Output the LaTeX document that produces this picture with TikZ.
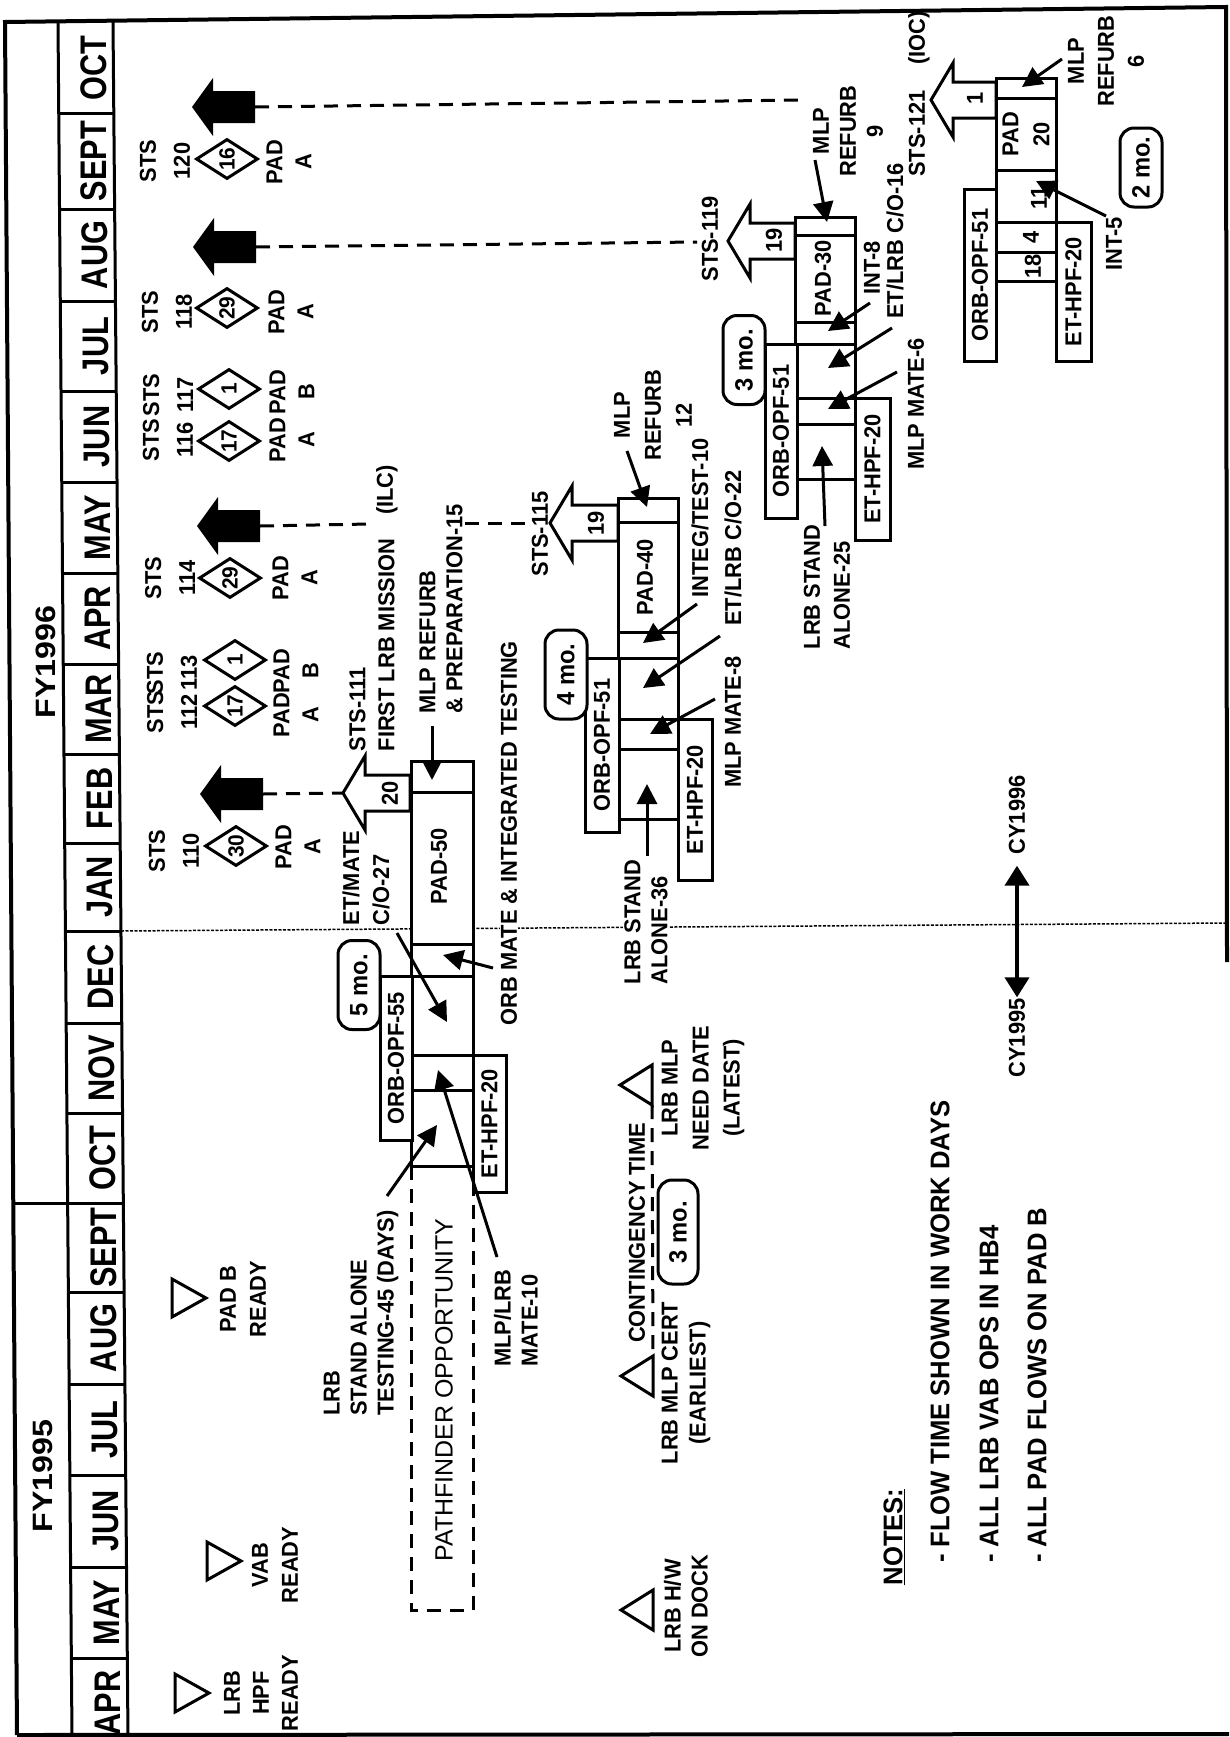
\documentclass[tikz,border=0pt]{standalone}
\usepackage{fontspec}
\setmainfont{Liberation Sans}
\newfontfamily\lbf{Liberation Sans}[FakeStretch=0.95]
\newfontfamily\monf{Liberation Sans}[FakeStretch=0.83]
\newfontfamily\fyf{Liberation Sans}[FakeStretch=1.15]
\usetikzlibrary{arrows.meta,shapes.geometric}
\tikzset{
  lab/.style={rotate=90, inner sep=1pt, align=center, font=\lbf\bfseries\fontsize{23}{28}\selectfont},
  ls/.style={font=\lbf\bfseries\fontsize{23}{#1}\selectfont},
  labl/.style={lab, align=left},
  mon/.style={rotate=90, inner sep=0pt, font=\monf\bfseries\fontsize{37}{37}\selectfont},
  fy/.style={rotate=90, inner sep=0pt, font=\fyf\bfseries\fontsize{28}{28}\selectfont},
  tbox/.style={draw, line width=3pt, fill=white, rotate=90, inner sep=0pt, font=\lbf\bfseries\fontsize{23}{28}\selectfont},
  rbox/.style={draw, line width=3pt, fill=white, rotate=90, rounded corners=14pt, inner sep=0pt, minimum width=89pt, minimum height=42pt, font=\lbf\bfseries\fontsize{25}{28}\selectfont},
  dia/.style={diamond, draw, line width=3pt, fill=white, rotate=90, inner sep=0pt, minimum width=40pt, minimum height=62pt, font=\lbf\bfseries\fontsize{22}{22}\selectfont},
  num/.style={rotate=90, inner sep=0pt, font=\lbf\bfseries\fontsize{23}{26}\selectfont},
  ptr/.style={line width=3pt, -{Triangle[length=20pt,width=20pt]}},
  dsh/.style={line width=3pt, dash pattern=on 14pt off 9pt},
  fine/.style={line width=1.5pt, dash pattern=on 3pt off 1.5pt},
  cell/.style={line width=3pt},
  mstone/.style={line width=3pt, fill=white},
  holarr/.style={draw, line width=3pt, fill=white},
  notef/.style={rotate=90, inner sep=0pt, anchor=west, font=\lbf\bfseries\fontsize{27}{30}\selectfont},
}
\newcommand{\blkarrow}[2]{\fill (#1,#2) -- ++(21,-29) -- ++(0,13) -- ++(42,0) -- ++(0,32) -- ++(-42,0) -- ++(0,13) -- cycle;}
\newcommand{\holarrow}[3]{\draw[holarr] (#1,#2) -- ++(22,-37) -- ++(0,19) -- ++(#3,0) -- ++(0,36) -- ++(-#3,0) -- ++(0,19) -- cycle;}
\newcommand{\tridown}[2]{\draw[mstone] (#1,#2-19) -- (#1,#2+19) -- (#1+34,#2) -- cycle;}
\newcommand{\triup}[2]{\draw[mstone] (#1,#2-20) -- (#1,#2+20) -- (#1-32,#2) -- cycle;}
\begin{document}
\begin{tikzpicture}[x=1pt,y=-1pt]
\useasboundingbox (0,0) rectangle (1229,1737);
% ---------- frame and header ----------
\draw[line width=4pt] (17,1735) -- (5,22) -- (1226,7) -- (1227,962);
\draw[line width=4pt] (17,1735) -- (1229,1734);
\draw[line width=3pt] (58,22) -- (72,1737);
\draw[line width=3pt] (113,22) -- (128,1737);
\draw[line width=3pt] (13,1203) -- (67.6,1203);
\foreach \y in {113.6,209,301,391,482,573,664,754,843,931,1023,1113,1203,1292,1384,1475,1567,1658}
  \draw[line width=3pt] ({58+0.00816*(\y-22)},\y) -- ({113+0.00875*(\y-22)},\y);
\foreach \y/\t [count=\i] in {67.8/OCT,161.3/SEPT,255/AUG,346/JUL,436.5/JUN,527.5/MAY,618.5/APR,709/MAR,798.5/FEB,887/JAN,977/DEC,1068/NOV,1158/OCT,1247.5/SEPT,1338/AUG,1429.5/JUL,1521/JUN,1612.5/MAY,1703/APR}
  \node[mon] (m\i) at ({93+0.0085*(\y-22)},\y) {\t};
\node[fy] (fy96) at (46,662) {FY1996};
\node[fy] (fy95) at (43,1476) {FY1995};
% ---------- CY boundary ----------
\draw[fine] (121,931) -- (1226,923);
% ---------- launch connectors ----------
\coordinate (e120) at (255,107); \coordinate (f120) at (802,100);
\coordinate (e118) at (256,247); \coordinate (f118) at (697,242);
\coordinate (e114) at (260,526); \coordinate (g114) at (370,524);
\coordinate (h114) at (465,523); \coordinate (f114) at (527,523);
\coordinate (e110) at (263,794); \coordinate (f110) at (343,793);
\draw[dsh] (e120) -- (f120);
\draw[dsh] (e118) -- (f118);
\draw[dsh] (e114) -- (g114);
\draw[dsh] (h114) -- (f114);
\draw[dsh] (e110) -- (f110);
\blkarrow{192}{107}
\blkarrow{193}{247}
\blkarrow{197}{526}
\blkarrow{200}{794}
% ---------- launch diamonds ----------
\node[lab, ls=34] (s120) at (165,161) {STS\\120};
\node[dia] (d120) at (227,159) {16};
\node[lab, ls=29] (p120) at (289,162) {PAD\\A};
\node[lab, ls=34] (s118) at (167,312) {STS\\118};
\node[dia] (d118) at (227,308) {29};
\node[lab, ls=29] (p118) at (291,312) {PAD\\A};
\node[lab, ls=34] (s117) at (168,395) {STS\\117};
\node[dia] (d117) at (229,389) {1};
\node[lab, ls=29] (p117) at (292,392) {PAD\\B};
\node[lab, ls=34] (s116) at (168,440) {STS\\116};
\node[dia] (d116) at (229,441) {17};
\node[lab, ls=29] (p116) at (292,440) {PAD\\A};
\node[lab, ls=34] (s114) at (170,578) {STS\\114};
\node[dia] (d114) at (230,578) {29};
\node[lab, ls=29] (p114) at (295,578) {PAD\\A};
\node[lab, ls=34] (s113) at (172,673) {STS\\113};
\node[dia] (d113) at (235,660) {1};
\node[lab, ls=29] (p113) at (296,671) {PAD\\B};
\node[lab, ls=34] (s112) at (172,712) {STS\\112};
\node[dia] (d112) at (235,706) {17};
\node[lab, ls=29] (p112) at (296,715) {PAD\\A};
\node[lab, ls=34] (s110) at (174,851) {STS\\110};
\node[dia] (d110) at (236,846) {30};
\node[lab, ls=29] (p110) at (298,847) {PAD\\A};
% ---------- pathfinder flow (STS-111) ----------
\draw[dsh] (411,1166) -- (411,1610) -- (473,1610) -- (473,1166);
\holarrow{343}{793}{45}
\draw[cell, fill=white] (411,761) rectangle (473,1166);
\foreach \y in {792,944,976,1055,1090} \draw[cell] (411,\y) -- (473,\y);
\node[tbox, minimum width=164pt, minimum height=32pt] (orb55) at (396,1058) {ORB-OPF-55};
\node[tbox, minimum width=137pt, minimum height=33pt] (ethpf1) at (489.5,1123.5) {ET-HPF-20};
\node[rbox] (mo5) at (359,985) {5 mo.};
\node[lab] (pad50) at (439,866) {PAD-50};
\node[num] (n20) at (390,793) {20};
\node[labl, ls=29] (sts111) at (372,645) {STS-111\\FIRST LRB MISSION};
\node[lab] (ilc) at (387,490) {(ILC)};
\node[labl, ls=27] (mlpref1) at (441,609) {MLP REFURB\\\& PREPARATION-15};
\node[lab, fill=white] (orbmate) at (509,833) {ORB MATE \& INTEGRATED TESTING};
\node[labl, ls=30] (etmate) at (366,878) {ET/MATE\\C/O-27};
\node[labl, ls=27] (mlplrb) at (516,1318) {MLP/LRB\\MATE-10};
\node[labl, ls=27] (lrbsat) at (361,1313) {LRB\\STAND ALONE\\TESTING-45 (DAYS)};
\node[rotate=90, inner sep=0pt, font=\fontsize{25}{28}\selectfont] (path) at (444,1390) {PATHFINDER OPPORTUNITY};
\coordinate (a1t) at (432,726); \coordinate (a1h) at (432,780);
\coordinate (a2t) at (493,968); \coordinate (a2h) at (443,955);
\coordinate (a3t) at (397,933); \coordinate (a3h) at (447,1022);
\coordinate (a4t) at (497,1257); \coordinate (a4h) at (438,1070);
\coordinate (a5t) at (387,1196); \coordinate (a5h) at (437,1125);
\draw[ptr] (a1t) -- (a1h);
\draw[ptr] (a2t) -- (a2h);
\draw[ptr] (a3t) -- (a3h);
\draw[ptr] (a4t) -- (a4h);
\draw[ptr] (a5t) -- (a5h);
% ---------- STS-115 flow ----------
\holarrow{550}{523}{46}
\draw[cell, fill=white] (618,498) rectangle (678,819);
\foreach \y in {522,632,658,719,749} \draw[cell] (618,\y) -- (678,\y);
\node[tbox, minimum width=174pt, minimum height=34pt] (orb51a) at (602,745) {ORB-OPF-51};
\node[tbox, minimum width=161pt, minimum height=34pt] (ethpf2) at (695,799.5) {ET-HPF-20};
\node[rbox] (mo4) at (566,674.5) {4 mo.};
\node[lab] (pad40) at (645,577) {PAD-40};
\node[num] (n19a) at (596,523) {19};
\node[lab] (sts115) at (540,534) {STS-115};
\node[lab, ls=31] (mlpref2) at (653,415) {MLP\\REFURB\\12};
\node[lab] (integ) at (700,518) {INTEG/TEST-10};
\node[lab] (etlrb2) at (733,548) {ET/LRB C/O-22};
\node[lab] (mate8) at (733,722) {MLP MATE-8};
\node[labl, ls=27, fill=white] (lrbsa36) at (646,922) {LRB STAND\\ALONE-36};
\coordinate (b1t) at (627,451); \coordinate (b1h) at (647,507);
\coordinate (b2t) at (697,604); \coordinate (b2h) at (643,643);
\coordinate (b3t) at (720,636); \coordinate (b3h) at (643,688);
\coordinate (b4t) at (715,699); \coordinate (b4h) at (650,734);
\coordinate (b5t) at (647,856); \coordinate (b5h) at (647,784);
\draw[ptr] (b1t) -- (b1h);
\draw[ptr] (b2t) -- (b2h);
\draw[ptr] (b3t) -- (b3h);
\draw[ptr] (b4t) -- (b4h);
\draw[ptr] (b5t) -- (b5h);
% ---------- STS-119 flow ----------
\holarrow{728}{241}{45}
\draw[cell, fill=white] (795,217) rectangle (855,479);
\foreach \y in {235,322,344,398,424} \draw[cell] (795,\y) -- (855,\y);
\node[tbox, minimum width=174pt, minimum height=32pt] (orb51b) at (781,431) {ORB-OPF-51};
\node[tbox, minimum width=142pt, minimum height=35pt] (ethpf3) at (872.5,469) {ET-HPF-20};
\node[rbox] (mo3) at (744,360) {3 mo.};
\node[lab] (pad30) at (823,278) {PAD-30};
\node[num] (n19b) at (774,240) {19};
\node[lab] (sts119) at (710,239) {STS-119};
\node[lab, ls=27] (mlpref3) at (848,131) {MLP\\REFURB\\9};
\node[lab] (int8) at (872,268) {INT-8};
\node[lab] (etlrb3) at (895,241) {ET/LRB C/O-16};
\node[lab] (mate6) at (916,404) {MLP MATE-6};
\node[labl, ls=30] (lrbsa25) at (827,587) {LRB STAND\\ALONE-25};
\coordinate (c1t) at (815,160); \coordinate (c1h) at (827,222);
\coordinate (c2t) at (870,303); \coordinate (c2h) at (828,331);
\coordinate (c3t) at (892,328); \coordinate (c3h) at (828,368);
\coordinate (c4t) at (897,372); \coordinate (c4h) at (828,409);
\coordinate (c5t) at (825,526); \coordinate (c5h) at (822,446);
\draw[ptr] (c1t) -- (c1h);
\draw[ptr] (c2t) -- (c2h);
\draw[ptr] (c3t) -- (c3h);
\draw[ptr] (c4t) -- (c4h);
\draw[ptr] (c5t) -- (c5h);
% ---------- STS-121 flow ----------
\holarrow{931}{100}{43}
\draw[cell, fill=white] (996,78) rectangle (1056,281);
\foreach \y in {98,170,222,252} \draw[cell] (996,\y) -- (1056,\y);
\node[tbox, minimum width=172pt, minimum height=32pt] (orb51c) at (980,275) {ORB-OPF-51};
\node[tbox, minimum width=139pt, minimum height=35pt] (ethpf4) at (1073.5,291.5) {ET-HPF-20};
\node[rbox, minimum width=79pt] (mo2) at (1141,167.5) {2 mo.};
\node[lab, ls=31] (pad20) at (1026,134) {PAD\\20};
\node[num] (n11) at (1039,198) {11};
\node[num] (n4) at (1031,237) {4};
\node[num] (n18) at (1033,266) {18};
\node[num] (n1) at (975,98) {1};
\node[lab] (sts121) at (917,133.5) {STS-121};
\node[lab] (ioc) at (919,38) {(IOC)};
\node[lab, ls=30] (mlpref4) at (1106,61) {MLP\\REFURB\\6};
\node[lab] (int5) at (1114,244) {INT-5};
\coordinate (d1t) at (1062,59); \coordinate (d1h) at (1022,87);
\coordinate (d2t) at (1106,216); \coordinate (d2h) at (1036,181);
\draw[ptr] (d1t) -- (d1h);
\draw[ptr] (d2t) -- (d2h);
% ---------- milestones ----------
\tridown{175}{1693}
\tridown{207}{1561}
\tridown{172}{1298}
\node[lab, ls=29] (hpfr) at (261,1693) {LRB\\HPF\\READY};
\node[lab, ls=30] (vabr) at (275,1565) {VAB\\READY};
\node[lab, ls=30] (padbr) at (243,1299) {PAD B\\READY};
\coordinate (needb) at (652,1105);
\coordinate (certb) at (653,1356);
\draw[dsh] (needb) -- (certb);
\triup{653}{1610}
\triup{653}{1376}
\triup{652}{1085}
\node[lab, ls=27] (hwd) at (686,1606) {LRB H/W\\ON DOCK};
\node[lab, ls=28] (cert) at (686,1383) {LRB MLP CERT\\(EARLIEST)};
\node[lab, ls=31] (need) at (703,1088) {LRB MLP\\NEED DATE\\(LATEST)};
\node[lab] (cont) at (637,1233) {CONTINGENCY TIME};
\node[rbox, minimum width=104pt, minimum height=40pt] (mo3c) at (678,1232) {3 mo.};
% ---------- calendar-year arrow ----------
\node[lab] (cy96) at (1017,815) {CY1996};
\node[lab] (cy95) at (1017,1038) {CY1995};
\draw[line width=4pt, {Triangle[length=20pt,width=24pt]}-{Triangle[length=20pt,width=24pt]}, shorten >=10pt] (cy95) -- (cy96);
% ---------- notes ----------
\node[rotate=90, inner sep=0pt, font=\lbf\bfseries\fontsize{27}{30}\selectfont] (notes) at (894,1537) {\underline{NOTES:}};
\node[notef] (note1) at (940,1563) {- FLOW TIME SHOWN IN WORK DAYS};
\node[notef] (note2) at (989,1563) {- ALL LRB VAB OPS IN HB4};
\node[notef] (note3) at (1037,1563) {- ALL PAD FLOWS ON PAD B};
\end{tikzpicture}
\end{document}
